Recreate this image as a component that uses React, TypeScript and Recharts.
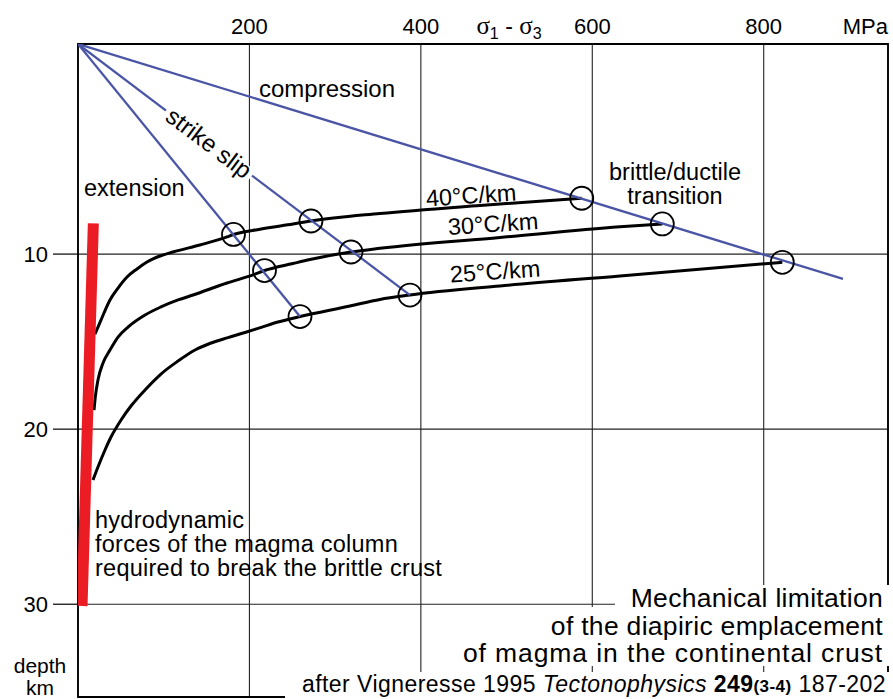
import React from 'react';
import { ComposedChart, Line, Scatter, XAxis, YAxis, CartesianGrid, ReferenceArea } from 'recharts';

const W = 893;
const H = 699;
const FONT = '"Liberation Sans", Arial, Helvetica, sans-serif';

const MPA_TICKS = [200, 400, 600, 800];
const DEPTH_TICKS = [10, 20, 30];
const MPA_DOMAIN: [number, number] = [0, 945];
const DEPTH_DOMAIN: [number, number] = [-2, 35.3];

// geotherms, [MPa, depth km]
const GEO_40: [number, number][] = [
  [19.8, 14.57], [26.8, 13.77], [37.3, 12.62], [46.7, 11.94], [57.2, 11.31], [68.8, 10.85],
  [80.5, 10.45], [95.7, 10.11], [110.8, 9.88], [142.3, 9.48], [173.8, 9.02], [181.4, 8.88],
  [212.3, 8.58], [250.8, 8.28], [271.8, 8.11], [352.3, 7.68], [469.0, 7.22], [587.7, 6.81],
];
const GEO_30: [number, number][] = [
  [18.7, 18.91], [20.2, 18.16], [23.3, 17.19], [29.2, 16.22], [37.3, 15.48], [46.7, 14.74],
  [58.3, 14.17], [78.2, 13.48], [96.8, 13.02], [116.7, 12.62], [134.2, 12.34], [173.8, 11.65],
  [204.2, 11.19], [217.6, 10.94], [250.8, 10.54], [270.7, 10.31], [318.5, 9.88], [352.3, 9.67],
  [492.3, 9.05], [632.3, 8.44], [681.7, 8.28],
];
const GEO_25: [number, number][] = [
  [17.5, 22.9], [23.3, 22.16], [31.5, 21.19], [38.5, 20.45], [50.2, 19.48], [61.8, 18.68],
  [78.2, 17.76], [96.8, 16.85], [116.7, 16.11], [136.5, 15.48], [155.2, 15.08], [175.0, 14.77],
  [194.8, 14.48], [214.7, 14.17], [233.3, 13.88], [259.0, 13.57], [317.3, 12.97], [352.3, 12.59],
  [387.3, 12.34], [492.3, 11.82], [632.3, 11.25], [821.7, 10.47],
];

// stress regimes, straight from the surface
const EXTENSION: [number, number][] = [[0, -2], [259.0, 13.57]];
const STRIKE_SLIP: [number, number][] = [[0, -2], [387.3, 12.34]];
const COMPRESSION: [number, number][] = [[0, -2], [892.5, 11.42]];

// brittle/ductile transition points
const TRANSITIONS: [number, number][] = [
  [181.4, 8.88], [271.8, 8.11], [217.6, 10.94], [318.5, 9.88], [259.0, 13.57],
  [387.3, 12.34], [587.7, 6.81], [681.7, 8.28], [821.7, 10.47],
];

const MAGMA_BAR: [number, number][] = [[17.9, 8.25], [4.7, 30.1]];

const pts = (a: [number, number][]) => a.map(([mpa, depth]) => ({ mpa, depth }));

const BLUE = '#4b55a6';

function Ring(props: any) {
  const { cx, cy } = props;
  if (cx == null || cy == null) return null;
  return <circle cx={cx} cy={cy} r={11.5} fill="none" stroke="#000" strokeWidth={1.8} />;
}

function Overlay() {
  return (
    <svg width={W} height={H} style={{ position: 'absolute', left: 0, top: 0, pointerEvents: 'none' }} fontFamily={FONT}>
      {/* top axis title */}
      <text x={509} y={34} fontSize={23} textAnchor="middle">
        <tspan fontFamily='"Liberation Serif", serif' fontSize={25}>σ</tspan>
        <tspan fontSize={16} dy={5}>1</tspan>
        <tspan dy={-5}> - </tspan>
        <tspan fontFamily='"Liberation Serif", serif' fontSize={25}>σ</tspan>
        <tspan fontSize={16} dy={5}>3</tspan>
      </text>
      <text x={888} y={34} fontSize={22} textAnchor="end">MPa</text>
      <text x={40} y={673} fontSize={21} textAnchor="middle">depth</text>
      <text x={40} y={695} fontSize={21} textAnchor="middle">km</text>

      <text x={259} y={97} fontSize={24}>compression</text>
      <text x={84} y={196} fontSize={23.5}>extension</text>
      <g transform="translate(209,143) rotate(37.1)">
        <rect x={-54} y={-6} width={108} height={12} fill="#fff" />
        <text x={0} y={0} dy="0.35em" fontSize={24} textAnchor="middle">strike slip</text>
      </g>
      <g transform="translate(471,195) rotate(-4)">
        <text dy="0.36em" fontSize={23.5} textAnchor="middle">40°C/km</text>
      </g>
      <g transform="translate(493,223.5) rotate(-4)">
        <text dy="0.36em" fontSize={23.5} textAnchor="middle">30°C/km</text>
      </g>
      <g transform="translate(495,271) rotate(-4)">
        <text dy="0.36em" fontSize={23.5} textAnchor="middle">25°C/km</text>
      </g>
      <text x={675} y={180} fontSize={23.5} textAnchor="middle">brittle/ductile</text>
      <text x={675} y={204} fontSize={23.5} textAnchor="middle">transition</text>

      <text x={95} y={528} fontSize={23.5} letterSpacing={0.25}>hydrodynamic</text>
      <text x={95} y={552} fontSize={23.5} letterSpacing={0.25}>forces of the magma column</text>
      <text x={95} y={576} fontSize={23.5} letterSpacing={0.25}>required to break the brittle crust</text>

      {/* title boxes */}
      <rect x={615} y={585} width={280} height={30} fill="#fff" />
      <rect x={545} y={607} width={352} height={30} fill="#fff" />
      <rect x={440} y={636} width={460} height={30} fill="#fff" />
      <rect x={285} y={672} width={612} height={30} fill="#fff" />
      <text x={883} y={607} fontSize={26.5} letterSpacing={0.3} textAnchor="end">Mechanical limitation</text>
      <text x={883} y={635} fontSize={26.5} letterSpacing={0.3} textAnchor="end">of the diapiric emplacement</text>
      <text x={883} y={662} fontSize={26.5} letterSpacing={0.9} textAnchor="end">of magma in the continental crust</text>
      <text x={886} y={692} fontSize={23} letterSpacing={0.45} textAnchor="end">
        after Vigneresse 1995 <tspan fontStyle="italic">Tectonophysics</tspan>{' '}
        <tspan fontWeight="bold">249</tspan>
        <tspan fontWeight="bold" fontSize={17}>(3-4)</tspan> 187-202
      </text>
    </svg>
  );
}

export default function App() {
  return (
    <div style={{ position: 'relative', width: W, height: H, fontFamily: FONT, background: '#fff' }}>
      <style>{'body{margin:0}'}</style>
      <ComposedChart width={W} height={H} margin={{ top: 0, right: 5, bottom: 2, left: 0 }}>
        <XAxis
          type="number"
          dataKey="mpa"
          orientation="top"
          height={44}
          domain={MPA_DOMAIN}
          ticks={MPA_TICKS}
          allowDataOverflow
          axisLine={false}
          tickLine={false}
          tickSize={8}
          tickMargin={2}
          tick={{ fill: '#000', fontSize: 22 }}
        />
        <YAxis
          type="number"
          dataKey="depth"
          width={78}
          reversed
          domain={DEPTH_DOMAIN}
          ticks={DEPTH_TICKS}
          allowDataOverflow
          axisLine={false}
          tickSize={25}
          tickMargin={5}
          tickLine={{ stroke: '#000', strokeWidth: 1.2 }}
          tick={{ fill: '#000', fontSize: 22 }}
        />
        <CartesianGrid stroke="#222" strokeWidth={1.1} />
        <ReferenceArea
          x1={MPA_DOMAIN[0]}
          x2={MPA_DOMAIN[1]}
          y1={DEPTH_DOMAIN[0]}
          y2={DEPTH_DOMAIN[1]}
          fill="none"
          fillOpacity={0}
          stroke="#000"
          strokeWidth={1.8}
        />
        <Line data={pts(GEO_40)} dataKey="depth" type="monotone" stroke="#000" strokeWidth={3} dot={false} isAnimationActive={false} />
        <Line data={pts(GEO_30)} dataKey="depth" type="monotone" stroke="#000" strokeWidth={3} dot={false} isAnimationActive={false} />
        <Line data={pts(GEO_25)} dataKey="depth" type="monotone" stroke="#000" strokeWidth={3} dot={false} isAnimationActive={false} />
        <Line data={pts(EXTENSION)} dataKey="depth" type="linear" stroke={BLUE} strokeWidth={2.3} dot={false} isAnimationActive={false} />
        <Line data={pts(STRIKE_SLIP)} dataKey="depth" type="linear" stroke={BLUE} strokeWidth={2.3} dot={false} isAnimationActive={false} />
        <Line data={pts(COMPRESSION)} dataKey="depth" type="linear" stroke={BLUE} strokeWidth={2.3} dot={false} isAnimationActive={false} />
        <Scatter data={pts(TRANSITIONS)} dataKey="depth" shape={Ring} isAnimationActive={false} />
        <Line data={pts(MAGMA_BAR)} dataKey="depth" type="linear" stroke="#ec1c24" strokeWidth={11} dot={false} isAnimationActive={false} />
      </ComposedChart>
      <Overlay />
    </div>
  );
}
